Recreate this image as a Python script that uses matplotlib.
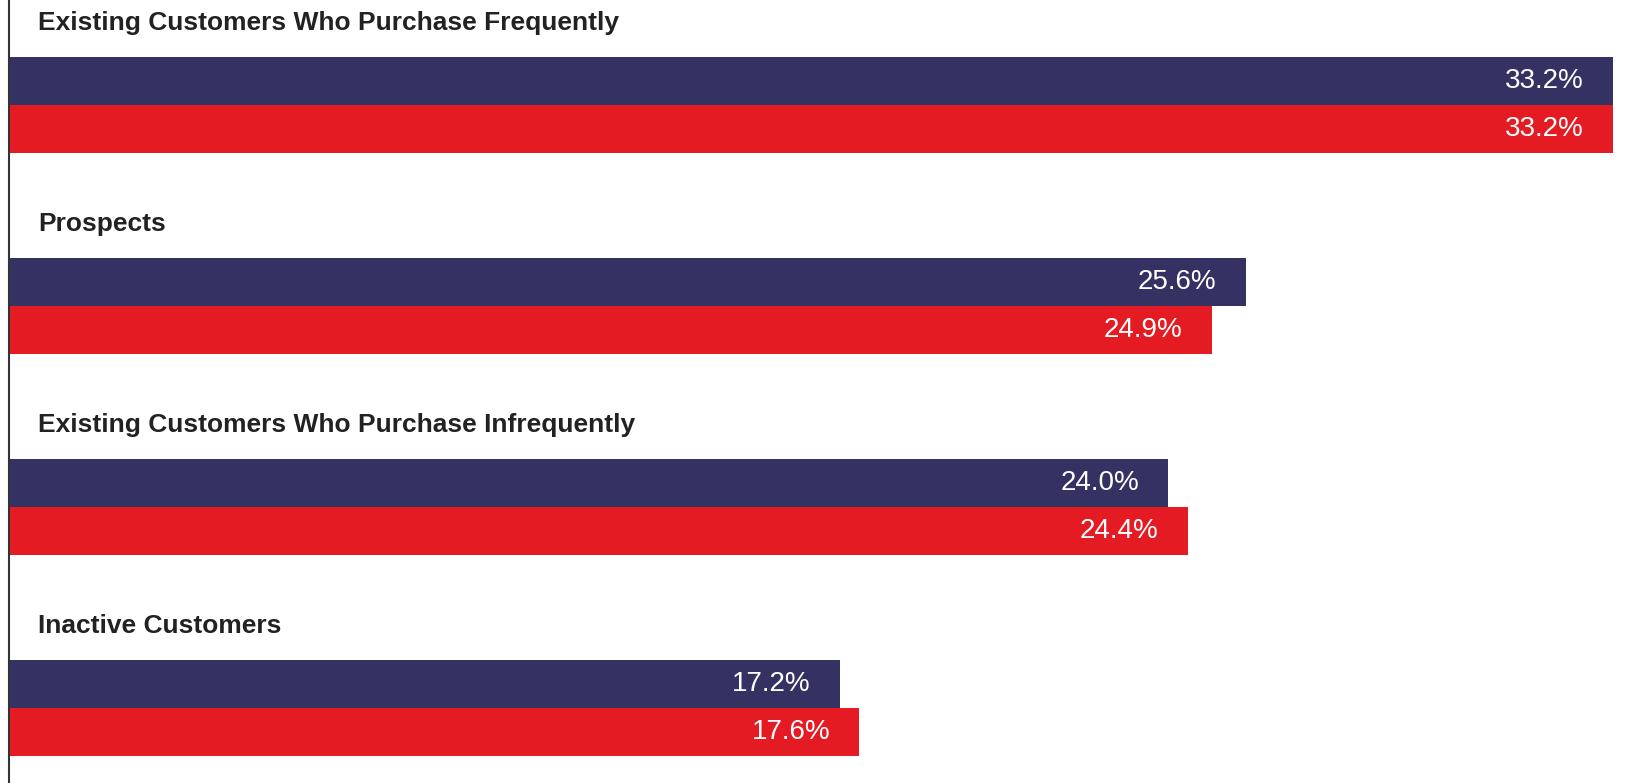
import matplotlib
matplotlib.use('Agg')
import matplotlib.pyplot as plt
import numpy as np

plt.rcParams['font.family'] = ['Liberation Sans', 'DejaVu Sans']

# Segment shares, two survey waves
segments = ['Existing Customers Who Purchase Frequently',
            'Prospects',
            'Existing Customers Who Purchase Infrequently',
            'Inactive Customers']
wave_a = [33.2, 25.6, 24.0, 17.2]
wave_b = [33.2, 24.9, 24.4, 17.6]

navy = '#343263'
red = '#E51B23'

fig = plt.figure(figsize=(16.32, 7.83), dpi=100)
ax = fig.add_axes([9 / 1632, 0, 1 - 9 / 1632, 1])

# y layout: one unit per group, title on top then the two bars
bar_h = 0.239
title_off = 0.114
a_off = 0.403
b_off = 0.642

idx = np.arange(len(segments))
ax.barh(idx + a_off, wave_a, height=bar_h, color=navy, left=0)
ax.barh(idx + b_off, wave_b, height=bar_h, color=red, left=0)

for i, name in enumerate(segments):
    ax.annotate(name, xy=(0, i + title_off), xytext=(29, 0),
                textcoords='offset pixels', ha='left', va='center',
                fontsize=19, fontweight='bold', color='#222222')
    for off, val in ((a_off, wave_a[i]), (b_off, wave_b[i])):
        ax.annotate(f'{val:.1f}%', xy=(val, i + off), xytext=(-29, 0),
                    textcoords='offset pixels', ha='right', va='center',
                    fontsize=20, color='white')

ax.set_xlim(0, 33.6)
ax.set_ylim(783 / 201, 0)
ax.set_xticks([])
ax.set_yticks([])
for side in ('top', 'right', 'bottom'):
    ax.spines[side].set_visible(False)
ax.spines['left'].set_color('#333333')
ax.spines['left'].set_linewidth(1.5)

fig.savefig('out.png', dpi=100, facecolor='white')
